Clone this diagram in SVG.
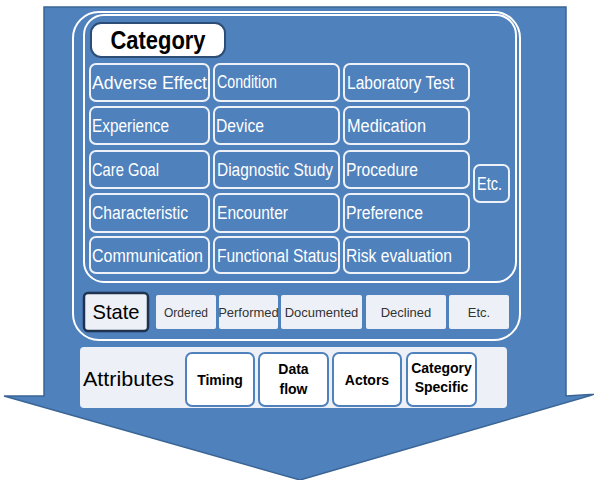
<svg xmlns="http://www.w3.org/2000/svg" width="594" height="480" viewBox="0 0 594 480">
<style>
.cat rect{fill:#4f81bd;stroke:#eef2f8;stroke-width:2}
.cat text{fill:#ffffff;font-family:"Liberation Sans",Arial,sans-serif;font-size:18px}
.st rect{fill:#edf1f7}
.st text{fill:#333333;font-family:"Liberation Sans",Arial,sans-serif;font-size:13px;text-anchor:middle}
.at rect{fill:#ffffff;stroke:#4f81bd;stroke-width:2}
.at text{fill:#000000;font-family:"Liberation Sans",Arial,sans-serif;font-size:14px;font-weight:bold;text-anchor:middle}
.lbl{font-family:"Liberation Sans",Arial,sans-serif;fill:#000000}
</style>
<rect width="594" height="480" fill="#ffffff"/>
<g id="arrow">
<polygon points="44,7 566,7 566,396 596,394 300,480 4,396 44,396" fill="#4f81bd" stroke="#3a6595" stroke-width="1.5"/>
</g>
<g id="frames" fill="none" stroke="#ffffff" stroke-width="2">
<rect x="73" y="12" width="447" height="328" rx="26"/>
<rect x="84" y="15" width="432" height="267" rx="20"/>
</g>
<g id="category-label">
<rect x="91" y="23" width="134" height="34" rx="10" fill="#ffffff" stroke="#2c4d75" stroke-width="2"/>
<text class="lbl" x="158" y="49" font-size="25" font-weight="bold" text-anchor="middle" textLength="95" lengthAdjust="spacingAndGlyphs">Category</text>
</g>
<g class="cat">
<g id="adverse-effect"><rect x="90" y="64" width="119" height="37" rx="6"/><text x="92" y="89" textLength="115" lengthAdjust="spacingAndGlyphs">Adverse Effect</text></g>
<g id="condition"><rect x="214" y="64" width="125" height="37" rx="6"/><text x="217" y="88" font-size="15" textLength="60" lengthAdjust="spacingAndGlyphs">Condition</text></g>
<g id="laboratory-test"><rect x="344" y="64" width="125" height="37" rx="6"/><text x="347" y="89" textLength="107" lengthAdjust="spacingAndGlyphs">Laboratory Test</text></g>
<g id="experience"><rect x="90" y="107" width="119" height="37" rx="6"/><text x="92" y="132" textLength="77" lengthAdjust="spacingAndGlyphs">Experience</text></g>
<g id="device"><rect x="214" y="107" width="125" height="37" rx="6"/><text x="216" y="132" textLength="48" lengthAdjust="spacingAndGlyphs">Device</text></g>
<g id="medication"><rect x="344" y="107" width="125" height="37" rx="6"/><text x="347" y="132" textLength="79" lengthAdjust="spacingAndGlyphs">Medication</text></g>
<g id="care-goal"><rect x="90" y="151" width="119" height="37" rx="6"/><text x="92" y="176" textLength="67" lengthAdjust="spacingAndGlyphs">Care Goal</text></g>
<g id="diagnostic-study"><rect x="214" y="151" width="125" height="37" rx="6"/><text x="217" y="176" textLength="116" lengthAdjust="spacingAndGlyphs">Diagnostic Study</text></g>
<g id="procedure"><rect x="344" y="151" width="125" height="37" rx="6"/><text x="346" y="176" textLength="72" lengthAdjust="spacingAndGlyphs">Procedure</text></g>
<g id="characteristic"><rect x="90" y="194" width="119" height="38" rx="6"/><text x="92" y="219" textLength="96" lengthAdjust="spacingAndGlyphs">Characteristic</text></g>
<g id="encounter"><rect x="214" y="194" width="125" height="38" rx="6"/><text x="217" y="219" textLength="71" lengthAdjust="spacingAndGlyphs">Encounter</text></g>
<g id="preference"><rect x="344" y="194" width="125" height="38" rx="6"/><text x="346" y="219" textLength="77" lengthAdjust="spacingAndGlyphs">Preference</text></g>
<g id="communication"><rect x="90" y="237" width="119" height="36" rx="6"/><text x="92" y="262" textLength="111" lengthAdjust="spacingAndGlyphs">Communication</text></g>
<g id="functional-status"><rect x="214" y="237" width="125" height="36" rx="6"/><text x="217" y="262" textLength="120" lengthAdjust="spacingAndGlyphs">Functional Status</text></g>
<g id="risk-evaluation"><rect x="344" y="237" width="125" height="36" rx="6"/><text x="346" y="262" textLength="106" lengthAdjust="spacingAndGlyphs">Risk evaluation</text></g>
<g id="category-etc"><rect x="474" y="165" width="35" height="37" rx="6"/><text x="477" y="190" textLength="25" lengthAdjust="spacingAndGlyphs">Etc.</text></g>
</g>
<g id="state-label">
<rect x="84" y="293" width="64" height="38" rx="4" fill="#edf1f7" stroke="#1f3350" stroke-width="2.5"/>
<text class="lbl" x="116" y="319" font-size="21" text-anchor="middle" textLength="47" lengthAdjust="spacingAndGlyphs">State</text>
</g>
<g class="st">
<g id="ordered"><rect x="156" y="295" width="60" height="34" rx="2"/><text x="186" y="317" textLength="44" lengthAdjust="spacingAndGlyphs">Ordered</text></g>
<g id="performed"><rect x="219" y="295" width="59" height="34" rx="2"/><text x="248.5" y="317">Performed</text></g>
<g id="documented"><rect x="281" y="295" width="81" height="34" rx="2"/><text x="321.5" y="317">Documented</text></g>
<g id="declined"><rect x="366" y="295" width="80" height="34" rx="2"/><text x="406" y="317">Declined</text></g>
<g id="state-etc"><rect x="449" y="295" width="60" height="34" rx="2"/><text x="479" y="317">Etc.</text></g>
</g>
<g id="attributes-panel">
<rect x="80" y="347" width="427" height="61" rx="4" fill="#edf1f7"/>
<text class="lbl" x="83" y="386" font-size="21" textLength="91" lengthAdjust="spacingAndGlyphs">Attributes</text>
</g>
<g class="at">
<g id="timing"><rect x="186" y="353" width="68" height="53" rx="6"/><text x="220" y="385">Timing</text></g>
<g id="data-flow"><rect x="259" y="353" width="69" height="53" rx="6"/><text x="293.5" y="374">Data</text><text x="293.5" y="394">flow</text></g>
<g id="actors"><rect x="333" y="353" width="68" height="53" rx="6"/><text x="367" y="385">Actors</text></g>
<g id="category-specific"><rect x="407" y="353" width="69" height="53" rx="6"/><text x="441.5" y="373" font-size="13">Category</text><text x="441.5" y="392" font-size="13">Specific</text></g>
</g>
<g id="connectors"></g>
</svg>
